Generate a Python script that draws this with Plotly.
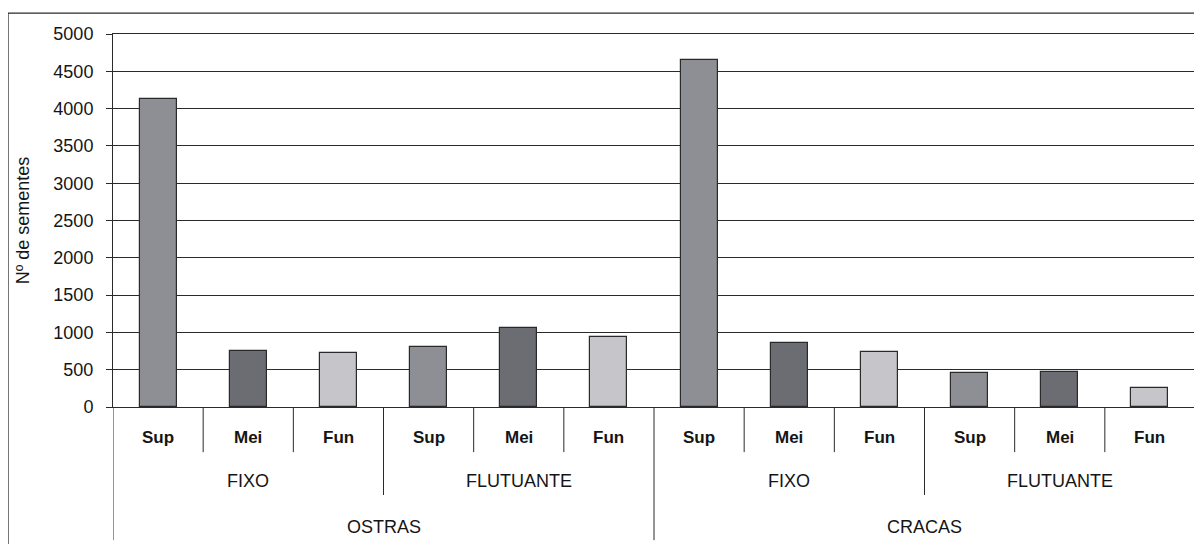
import plotly.graph_objects as go

# ---------------------------------------------------------------------------
# Data
# ---------------------------------------------------------------------------
ORGANISMS = ["OSTRAS", "CRACAS"]
SYSTEMS = ["FIXO", "FLUTUANTE"]
DEPTHS = ["Sup", "Mei", "Fun"]

OSTRAS_FIXO = [4130, 750, 730]
OSTRAS_FLUT = [800, 1060, 940]
CRACAS_FIXO = [4650, 860, 740]
CRACAS_FLUT = [460, 465, 255]

Y_TICKS = [0, 500, 1000, 1500, 2000, 2500, 3000, 3500, 4000, 4500, 5000]
Y_TITLE = "Nº de sementes"

# ---------------------------------------------------------------------------
# Style
# ---------------------------------------------------------------------------
DEPTH_COLORS = {"Sup": "#8e8e95", "Mei": "#6c6c73", "Fun": "#c6c6ca"}
LINE = "#2a2a2a"
TEXT = "#151515"
FONT = "Liberation Sans, Arial, sans-serif"

values = OSTRAS_FIXO + OSTRAS_FLUT + CRACAS_FIXO + CRACAS_FLUT
depth_labels = DEPTHS * 4
xpos = [i + 0.5 for i in range(len(values))]

fig = go.Figure()
for d in DEPTHS:
    idx = [i for i, lab in enumerate(depth_labels) if lab == d]
    fig.add_trace(go.Bar(
        x=[xpos[i] for i in idx],
        y=[values[i] for i in idx],
        width=0.41,
        marker=dict(color=DEPTH_COLORS[d], line=dict(color=LINE, width=1.2)),
        name=d,
    ))

# category label rows + separators below the axis
annotations = []
shapes = []
n = len(values)
row_y = [-0.081, -0.199, -0.322]  # depth / system / organism label rows
for i, lab in enumerate(depth_labels):
    annotations.append(dict(x=i + 0.5, y=row_y[0], xref="x", yref="paper",
                            yanchor="middle", text=lab, showarrow=False,
                            font=dict(size=17, color=TEXT, family=FONT,
                                      weight="bold")))
for j in range(4):
    annotations.append(dict(x=j * 3 + 1.5, y=row_y[1], xref="x", yref="paper",
                            yanchor="middle", text=SYSTEMS[j % 2],
                            showarrow=False,
                            font=dict(size=18, color=TEXT, family=FONT)))
for k in range(2):
    annotations.append(dict(x=k * 6 + 3, y=row_y[2], xref="x", yref="paper",
                            yanchor="middle", text=ORGANISMS[k],
                            showarrow=False,
                            font=dict(size=18, color=TEXT, family=FONT)))

for b in range(n + 1):
    if b % 6 == 0:
        depth = -0.357
    elif b % 3 == 0:
        depth = -0.236
    else:
        depth = -0.121
    shapes.append(dict(type="line", xref="x", yref="paper", x0=b, x1=b,
                       y0=0, y1=depth, line=dict(color=LINE, width=1)))

# outer chart frame
shapes.append(dict(type="rect", xref="paper", yref="paper",
                   x0=-0.097, x1=1.02, y0=-0.5, y1=1.056,
                   line=dict(color=LINE, width=1.2)))

# page body keeps its default 8px margin, so the figure is 8px smaller
fig.update_layout(
    width=1194, height=536,
    paper_bgcolor="white", plot_bgcolor="white",
    margin=dict(l=105, r=7, t=26, b=137, autoexpand=False),
    showlegend=False,
    bargap=0,
    font=dict(family=FONT, color=TEXT),
    xaxis=dict(range=[0, n], showticklabels=False, showgrid=False,
               zeroline=False, showline=True, linecolor=LINE, linewidth=1,
               mirror=True, ticks="", automargin=False),
    yaxis=dict(range=[0, 5000], tickvals=Y_TICKS, showgrid=True,
               gridcolor=LINE, gridwidth=1, zeroline=False,
               showline=True, linecolor=LINE, linewidth=1,
               ticks="outside", ticklen=6, tickcolor=LINE,
               ticklabelstandoff=9, automargin=False,
               tickfont=dict(size=18, family=FONT, color=TEXT),
               title=dict(text=Y_TITLE, standoff=19,
                          font=dict(size=18, family=FONT, color=TEXT))),
    annotations=annotations,
    shapes=shapes,
)

fig.write_html("out.html")
